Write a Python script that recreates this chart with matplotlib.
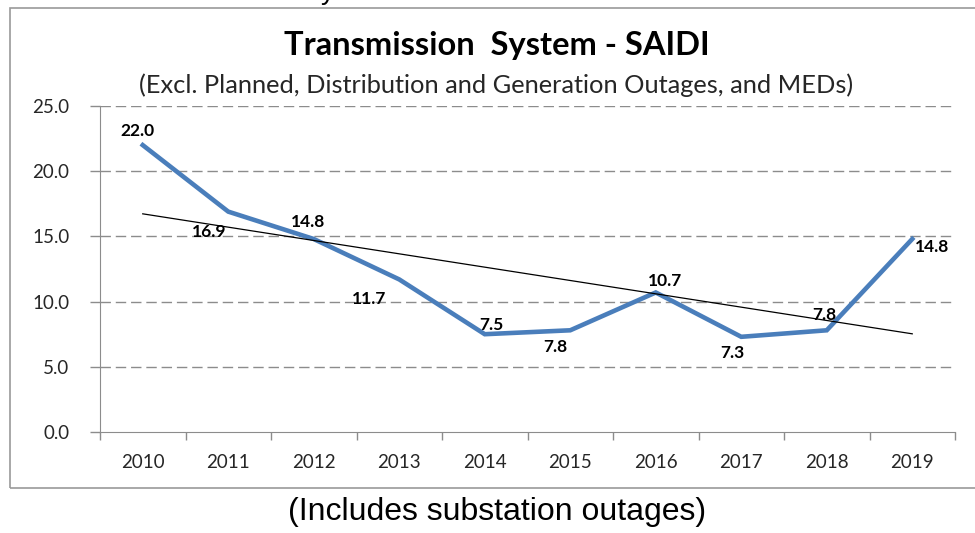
import matplotlib
matplotlib.use("Agg")
import matplotlib.pyplot as plt
import numpy as np
from matplotlib.patches import Rectangle

years = ["2010", "2011", "2012", "2013", "2014", "2015", "2016", "2017", "2018", "2019"]
saidi = [22.0, 16.9, 14.8, 11.7, 7.5, 7.8, 10.7, 7.3, 7.8, 14.8]
y_ticks = [0, 5, 10, 15, 20, 25]

# label offsets in points (dx, dy) from each point, as placed in the source chart
label_offsets = [(-4, 10), (-14, -15), (-4, 12), (-22, -14), (5, 6.5), (-11, -12),
                 (6.5, 8.6), (-6.5, -11.5), (-1.5, 11), (14.5, -6)]

BLUE = "#4a7ebb"
GRAY = "#8c8c8c"
TEXT = "#262626"

fig = plt.figure(figsize=(9.75, 5.33), dpi=100)
ax = fig.add_axes([100 / 975, 1 - 432 / 533, 855 / 975, 326 / 533])

x = np.arange(len(years))
ax.plot(x, saidi, color=BLUE, lw=3.3, solid_joinstyle="miter", zorder=3)

slope, intercept = np.polyfit(x, saidi, 1)
ax.plot(x, slope * x + intercept, color="black", lw=0.9, zorder=4)

for xi, v, (dx, dy) in zip(x, saidi, label_offsets):
    ax.annotate(f"{v:.1f}", (xi, v), xytext=(dx, dy), textcoords="offset points",
                ha="center", va="center", fontsize=12.5, fontweight="bold",
                family="Lato", color="black", zorder=5)

ax.set_xlim(-0.5, len(years) - 0.5)
ax.set_ylim(0, 25)
ax.set_yticks(y_ticks)
ax.set_yticklabels([f"{t:.1f}" for t in y_ticks])
ax.set_xticks(x)
ax.set_xticklabels(years)
ax.set_xticks(np.arange(-0.5, len(years)), minor=True)
ax.tick_params(axis="x", which="major", length=0, pad=16)
ax.tick_params(axis="x", which="minor", length=6, color=GRAY, width=1, direction="out")
ax.tick_params(axis="y", length=7, color=GRAY, width=1, direction="out", pad=15)
for lbl in ax.get_xticklabels() + ax.get_yticklabels():
    lbl.set_family("Lato")
    lbl.set_fontsize(13.5)
    lbl.set_color(TEXT)

for t in y_ticks[1:]:
    ax.axhline(t, color=GRAY, lw=1, ls=(0, (7.5, 3.5)), zorder=1)

for side in ["top", "right"]:
    ax.spines[side].set_visible(False)
ax.spines["left"].set_color(GRAY)
ax.spines["bottom"].set_color(GRAY)

# chart frame
fig.patches.append(Rectangle((10 / 975, 1 - 488 / 533), 1.0, 480 / 533,
                             transform=fig.transFigure, fill=False,
                             edgecolor="#9a9a9a", lw=1.2))

fig.text(497 / 975, 1 - 46 / 533, "Transmission  System - SAIDI", ha="center", va="center",
         fontsize=23.5, fontweight="bold", family="Lato", color="black")
fig.text(496 / 975, 1 - 85 / 533,
         "(Excl. Planned, Distribution and Generation Outages, and MEDs)",
         ha="center", va="center", fontsize=18.3, family="Lato", color=TEXT)
fig.text(497 / 975, 1 - 512 / 533, "(Includes substation outages)", ha="center", va="center",
         fontsize=23, family="Liberation Sans", color="black")
fig.text(328 / 975, 1 + 1 / 533, "y", ha="center", va="baseline",
         fontsize=20, family="Liberation Sans", color="black")

fig.savefig("out.png", dpi=100)
